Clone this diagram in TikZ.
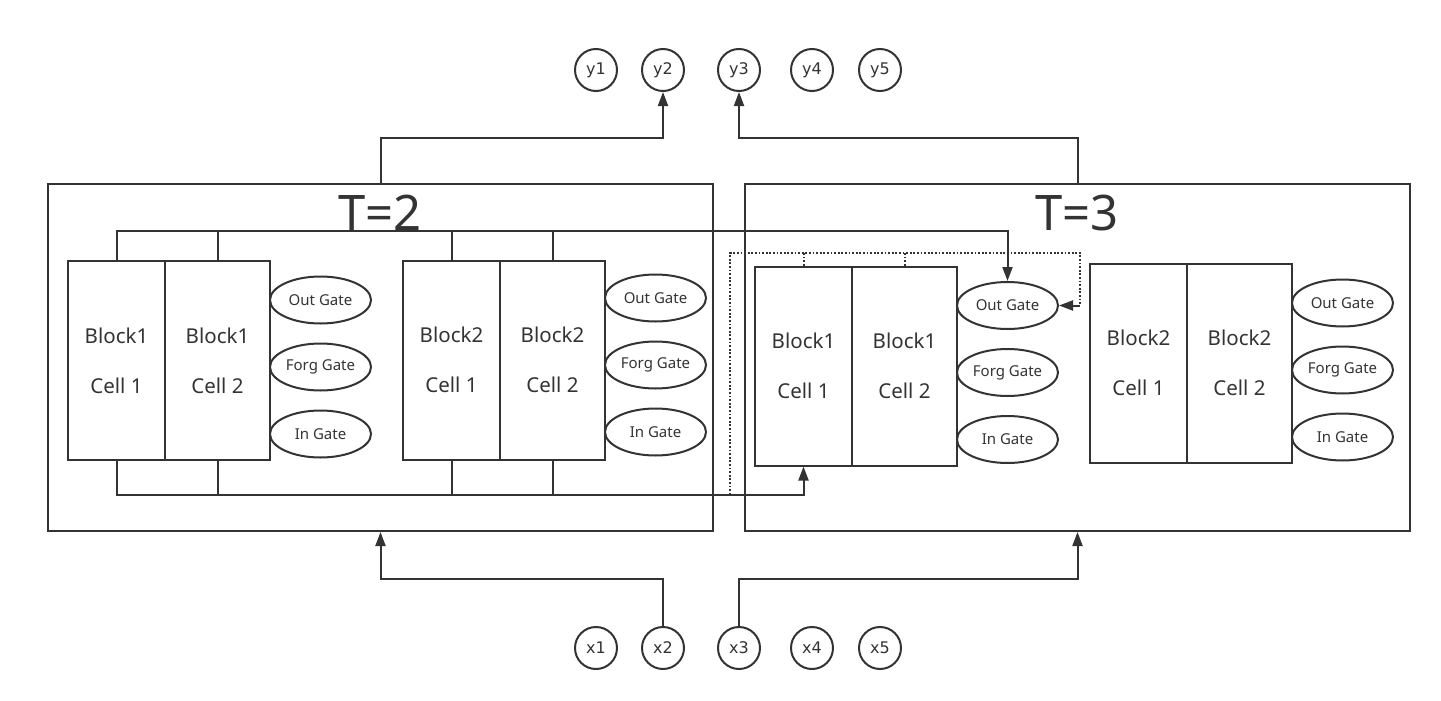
\documentclass[tikz,border=0pt]{standalone}
\usepackage{fontspec}
\setmainfont{Noto Sans}
\newfontfamily\circfont{DejaVu Sans}
\usetikzlibrary{arrows.meta,shapes.geometric}
\definecolor{ink}{HTML}{333333}
\tikzset{
  ln/.style={draw=ink, line width=2pt},
  arr/.style={ln, -{Triangle[length=14pt,width=10pt]}},
  dotln/.style={draw=ink, line width=2pt, dash pattern=on 1.8pt off 1.8pt},
  frame/.style={ln, rectangle, inner sep=0pt},
  cellbox/.style={ln, rectangle, inner sep=0pt, minimum height=199pt, text=ink, align=center, font=\fontsize{20.5}{50}\selectfont},
  gate/.style={ln, ellipse, inner sep=0pt, minimum width=101pt, minimum height=47pt, text=ink, font=\fontsize{15}{18}\selectfont},
  io/.style={ln, circle, inner sep=0pt, minimum size=42pt, text=ink, font=\circfont\fontsize{16}{18}\selectfont},
  ttl/.style={text=ink, anchor=base, inner sep=0pt, font=\fontsize{49}{55}\selectfont}
}
\begin{document}
\begin{tikzpicture}[x=1pt,y=-1pt]
\useasboundingbox (0,0) rectangle (1441,701);
% frames
\node[frame, minimum width=665pt, minimum height=347pt] (T2) at (380.5,357.5) {};
\node[frame, minimum width=665pt, minimum height=347pt] (T3) at (1077.5,357.5) {};
\node[ttl] (t2lab) at (380,230) {T=2};
\node[ttl] (t3lab) at (1077,230) {T=3};
% T=2 block1
\node[cellbox, minimum width=97pt] (A1) at (116.5,360.5) {Block1\\Cell 1};
\node[cellbox, minimum width=105pt] (A2) at (217.5,360.5) {Block1\\Cell 2};
\node[gate] (Aog) at (320.5,300) {Out Gate};
\node[gate] (Afg) at (320.5,367) {Forg Gate};
\node[gate] (Aig) at (320.5,434) {In Gate};
% T=2 block2
\node[cellbox, minimum width=97pt] (B1) at (451.5,360) {Block2\\Cell 1};
\node[cellbox, minimum width=105pt] (B2) at (552.5,360) {Block2\\Cell 2};
\node[gate] (Bog) at (655.5,298) {Out Gate};
\node[gate] (Bfg) at (655.5,365) {Forg Gate};
\node[gate] (Big) at (655.5,432) {In Gate};
% T=3 block1
\node[cellbox, minimum width=97pt] (C1) at (803.5,366) {Block1\\Cell 1};
\node[cellbox, minimum width=105pt] (C2) at (904.5,366) {Block1\\Cell 2};
\node[gate] (Cog) at (1007.5,305.5) {Out Gate};
\node[gate] (Cfg) at (1007.5,372.5) {Forg Gate};
\node[gate] (Cig) at (1007.5,439.5) {In Gate};
% T=3 block2
\node[cellbox, minimum width=97pt] (D1) at (1138.5,363) {Block2\\Cell 1};
\node[cellbox, minimum width=105pt] (D2) at (1239.5,363) {Block2\\Cell 2};
\node[gate] (Dog) at (1342.5,303) {Out Gate};
\node[gate] (Dfg) at (1342.5,370) {Forg Gate};
\node[gate] (Dig) at (1342.5,437) {In Gate};
% outputs and inputs
\node[io] (y1) at (596,70) {y1};
\node[io] (y2) at (663,70) {y2};
\node[io] (y3) at (739,70) {y3};
\node[io] (y4) at (812,70) {y4};
\node[io] (y5) at (880,70) {y5};
\node[io] (x1) at (596,648) {x1};
\node[io] (x2) at (663,648) {x2};
\node[io] (x3) at (739,648) {x3};
\node[io] (x4) at (812,648) {x4};
\node[io] (x5) at (880,648) {x5};
% helper coordinates
\coordinate (topbus) at (0,231);
\coordinate (botbus) at (0,494.5);
\coordinate (dotbus) at (0,253);
\coordinate (dotL) at (730,0);
\coordinate (dotR) at (1080,0);
\coordinate (yline) at (0,138);
\coordinate (xline) at (0,579);
% top bus
\draw[arr] (A1.north) |- (Cog.north |- topbus) -- (Cog.north);
\draw[ln] (A2.north) -- (A2.north |- topbus);
\draw[ln] (B1.north) -- (B1.north |- topbus);
\draw[ln] (B2.north) -- (B2.north |- topbus);
% bottom bus
\draw[arr] (A1.south) |- (C1.south |- botbus) -- (C1.south);
\draw[ln] (A2.south) -- (A2.south |- botbus);
\draw[ln] (B1.south) -- (B1.south |- botbus);
\draw[ln] (B2.south) -- (B2.south |- botbus);
% dotted
\draw[dotln] (C1.north) -- (C1.north |- dotbus);
\draw[dotln] (C2.north) -- (C2.north |- dotbus);
\draw[dotln] (dotL |- botbus) |- (dotR |- dotbus) -- (dotR |- Cog.east);
\draw[arr] (dotR |- Cog.east) -- (Cog.east);
% outer connectors
\draw[arr] (T2.north) |- (y2.south |- yline) -- (y2.south);
\draw[arr] (T3.north) |- (y3.south |- yline) -- (y3.south);
\draw[arr] (x2.north) |- (T2.south |- xline) -- (T2.south);
\draw[arr] (x3.north) |- (T3.south |- xline) -- (T3.south);
\end{tikzpicture}
\end{document}
